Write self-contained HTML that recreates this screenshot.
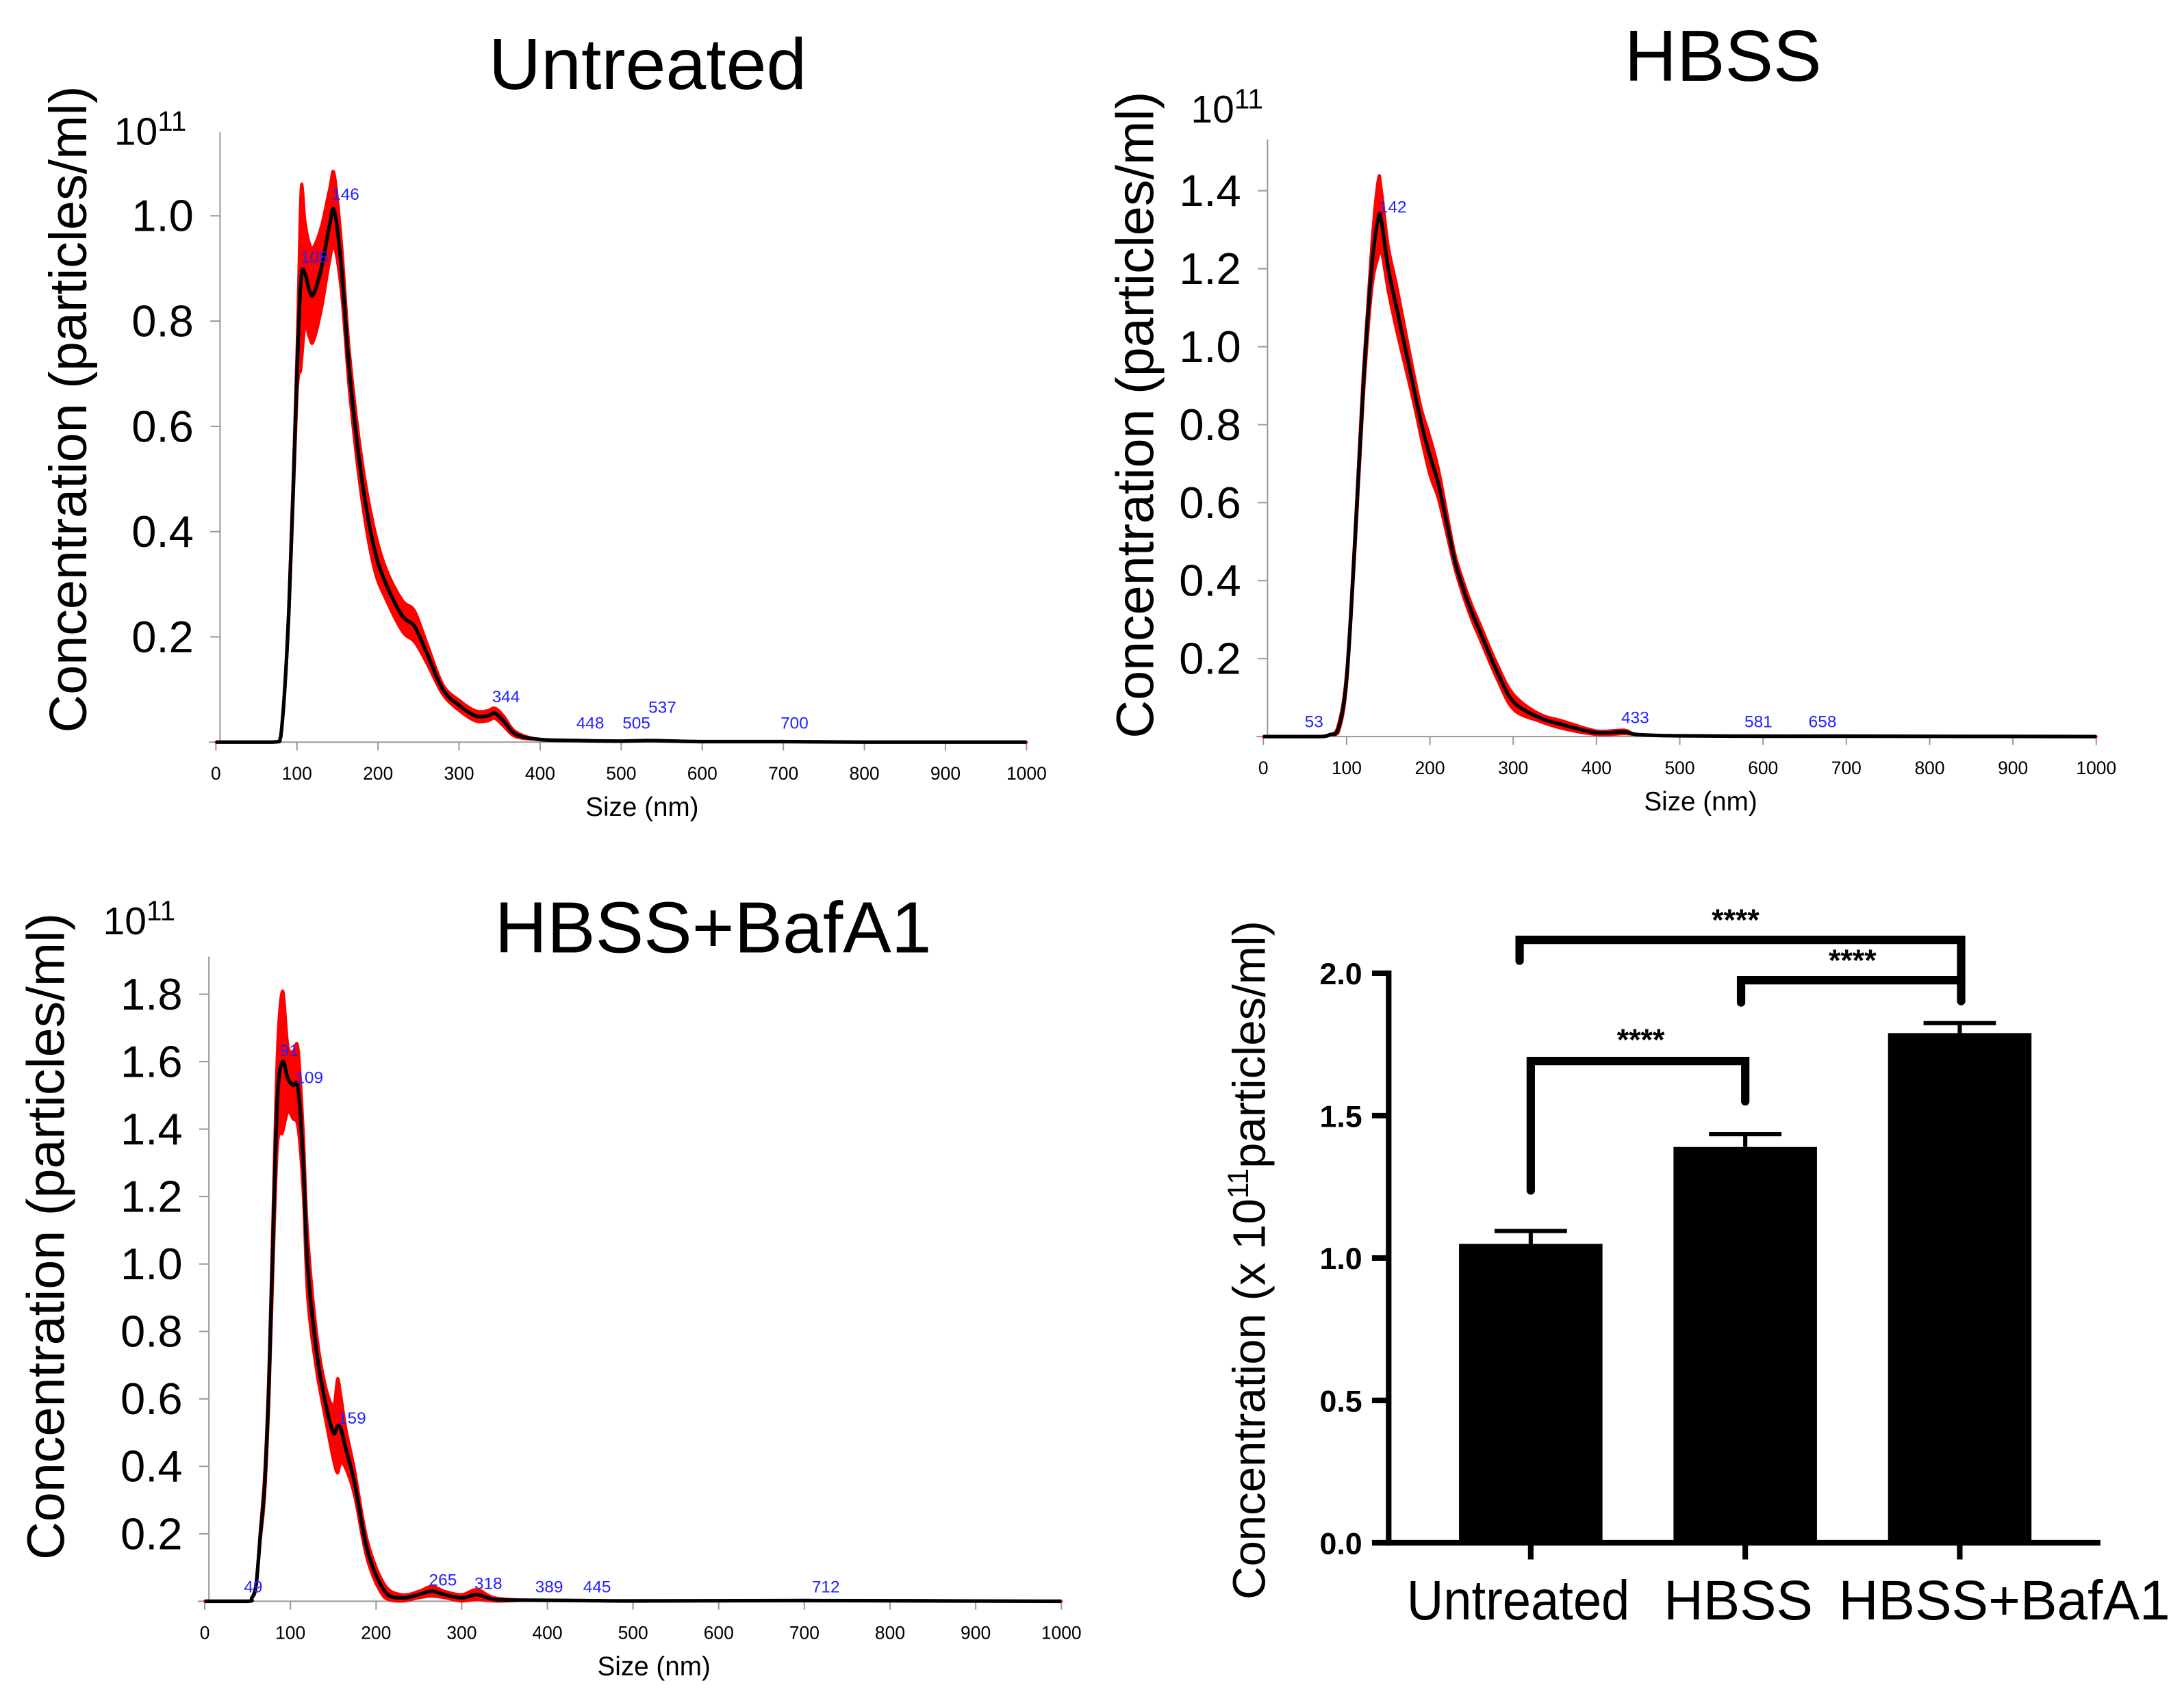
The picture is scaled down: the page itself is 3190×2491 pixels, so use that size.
<!DOCTYPE html>
<html><head><meta charset="utf-8"><style>
html,body{margin:0;padding:0;background:#fff}
svg{display:block}
text{font-family:"Liberation Sans",sans-serif}
</style></head><body>
<svg id="fig" width="3190" height="2491" viewBox="0 0 1568 1224.5" preserveAspectRatio="none" xmlns="http://www.w3.org/2000/svg">
<rect width="1568" height="1224.5" fill="#fff"/>
</svg>
<script>
// ---- Untreated ----
const untSize=[0,70,80,90,100,105,110,115,120,130,140,146,155,165,180,195,210,230,245,260,280,300,320,335,344,355,370,400,450,500,537,600,700,800,1000];
const untConc=[0,0,0.01,0.25,0.7,0.88,0.89,0.86,0.85,0.9,0.98,1.01,0.9,0.7,0.5,0.37,0.3,0.24,0.22,0.17,0.1,0.07,0.05,0.05,0.055,0.04,0.015,0.005,0.003,0.002,0.003,0.001,0.001,0,0];
const untErr=[0,0,0,0.02,0.05,0.17,0.1,0.09,0.09,0.08,0.07,0.07,0.05,0.04,0.04,0.04,0.03,0.03,0.03,0.02,0.01,0.01,0.01,0.01,0.01,0.01,0.005,0,0,0,0,0,0,0,0];
const untLabels=["146","108","344","448","505","537","700"];
const untLabelSize=[146,108,344,448,505,537,700];
const untLabelConc=[1.02,0.9,0.065,0.015,0.015,0.045,0.015];
// ---- HBSS ----
const hbSize=[0,50,70,80,90,100,110,120,130,138,142,150,160,170,180,190,200,210,220,230,240,250,260,280,300,330,360,400,433,450,500,600,700,1000];
const hbConc=[0,0,0,0.005,0.02,0.15,0.5,0.9,1.2,1.33,1.32,1.2,1.1,1.0,0.9,0.8,0.72,0.65,0.55,0.45,0.38,0.32,0.27,0.17,0.09,0.05,0.03,0.01,0.012,0.005,0.002,0.001,0.001,0];
const hbErr=[0,0,0,0,0.01,0.02,0.03,0.04,0.06,0.1,0.08,0.06,0.06,0.05,0.04,0.04,0.05,0.04,0.03,0.02,0.02,0.02,0.02,0.02,0.02,0.01,0.01,0.005,0.005,0,0,0,0,0];
const hbLabels=["142","53","433","581","658"];
const hbLabelSize=[142,53,433,581,658];
const hbLabelConc=[1.33,0.01,0.02,0.01,0.01];
// ---- HBSS+BafA1 ----
const bfSize=[0,50,55,60,65,70,75,80,85,91,97,103,109,115,120,130,140,150,155,159,165,175,190,210,230,250,265,280,300,318,340,389,445,500,712,1000];
const bfConc=[0,0,0.01,0.05,0.2,0.35,0.65,1.1,1.5,1.6,1.55,1.53,1.52,1.3,1.0,0.75,0.6,0.5,0.52,0.51,0.45,0.35,0.15,0.03,0.01,0.02,0.03,0.02,0.01,0.02,0.005,0.003,0.002,0.001,0.002,0];
const bfErr=[0,0,0,0.01,0.02,0.04,0.06,0.1,0.15,0.21,0.1,0.1,0.12,0.1,0.1,0.06,0.05,0.08,0.14,0.1,0.06,0.04,0.03,0.02,0.01,0.01,0.015,0.01,0.01,0.015,0.005,0,0,0,0,0];
const bfLabels=["91","109","159","49","265","318","389","445","712"];
const bfLabelSize=[91,109,159,49,265,318,389,445,712];
const bfLabelConc=[1.6,1.52,0.51,0.01,0.03,0.02,0.01,0.01,0.01];
// ---- Bar chart ----
const barCats=["Untreated","HBSS","HBSS+BafA1"];
const barVals=[1.05,1.39,1.79];
const barErrs=[0.045,0.045,0.035];
const barTicks=["0.0","0.5","1.0","1.5","2.0"];
const barTickVals=[0,0.5,1.0,1.5,2.0];
const distXTicks=[0,100,200,300,400,500,600,700,800,900,1000];

const NS="http://www.w3.org/2000/svg";
const svg=document.getElementById('fig');
function mk(tag,attrs,parent,txt){const e=document.createElementNS(NS,tag);for(const k in attrs)e.setAttribute(k,attrs[k]);if(txt!==undefined)e.textContent=txt;(parent||svg).appendChild(e);return e;}
function smooth(pts,maxY){
  const cl=y=>Math.min(y,maxY);
  let d='M'+pts[0][0]+','+pts[0][1];
  for(let i=0;i<pts.length-1;i++){
    const p0=pts[Math.max(0,i-1)],p1=pts[i],p2=pts[i+1],p3=pts[Math.min(pts.length-1,i+2)];
    const c1x=p1[0]+(p2[0]-p0[0])/6,c1y=cl(p1[1]+(p2[1]-p0[1])/6);
    const c2x=p2[0]-(p3[0]-p1[0])/6,c2y=cl(p2[1]-(p3[1]-p1[1])/6);
    d+=` C${c1x},${c1y} ${c2x},${c2y} ${p2[0]},${p2[1]}`;
  }
  return d;
}

function dist(cfg){
  const g=mk('g',{});
  
  
  const X=v=>cfg.x0+(cfg.x1-cfg.x0)*v/1000;
  const Y=v=>cfg.y0-(cfg.y0-cfg.yTop)*v/cfg.yTopVal;
  const t=mk('text',{x:cfg.tx,y:cfg.ty,'font-size':52,'text-anchor':'middle'},g,cfg.title);
  
  const e=mk('text',{x:cfg.ex,y:cfg.ey,'font-size':28,'font-family':'Liberation Serif,serif'},g);
  
  mk('tspan',{},e,'10');mk('tspan',{dy:-10,'font-size':20},e,'11');
  const yl=mk('text',{x:0,y:0,'font-size':38,'text-anchor':'middle',transform:`translate(${cfg.ylx},${cfg.yly}) rotate(-90)`},g,'Concentration (particles/ml)');
  
  mk('line',{x1:cfg.x0+3,y1:cfg.axTop,x2:cfg.x0+3,y2:cfg.y0,stroke:'#999','stroke-width':1},g);
  mk('line',{x1:cfg.x0-5,y1:cfg.y0,x2:cfg.x1,y2:cfg.y0,stroke:'#999','stroke-width':1},g);
  cfg.yTicks.forEach(v=>{
    mk('line',{x1:cfg.x0-4,y1:Y(v),x2:cfg.x0+3,y2:Y(v),stroke:'#999','stroke-width':1},g);
    const tl=mk('text',{x:cfg.x0-16,y:Y(v)+11,'font-size':32,'text-anchor':'end'},g,v.toFixed(1));
    
  });
  distXTicks.forEach(v=>{
    mk('line',{x1:X(v),y1:cfg.y0,x2:X(v),y2:cfg.y0+6,stroke:'#999','stroke-width':1},g);
    const tl=mk('text',{x:X(v),y:cfg.y0+27,'font-size':13,'text-anchor':'middle'},g,String(v));
    
  });
  const xl=mk('text',{x:(cfg.x0+cfg.x1)/2+15,y:cfg.y0+53,'font-size':19,'text-anchor':'middle'},g,'Size (nm)');
  
  const up=cfg.s.map((s,i)=>[X(s),Y(cfg.c[i]+cfg.e[i])]);
  const lo=cfg.s.map((s,i)=>[X(s),Y(Math.max(0,cfg.c[i]-cfg.e[i]))]).reverse();
  const band=mk('path',{d:smooth(up,cfg.y0)+' L'+smooth(lo,cfg.y0).slice(1)+' Z',fill:'#ff0000',stroke:'#ff0000','stroke-width':2,'stroke-linejoin':'round'},g);
  
  const ln=mk('path',{d:smooth(cfg.s.map((s,i)=>[X(s),Y(cfg.c[i])]),cfg.y0),fill:'none',stroke:'#000','stroke-width':2.6,'stroke-linejoin':'round'},g);
  
  cfg.lab.forEach((l,i)=>{
    const lt=mk('text',{x:X(cfg.labS[i])-2,y:Y(cfg.labC[i])-4,'font-size':12,fill:'#2222ff'},g,l);
    
  });
}
dist({name:'untreated-chart',title:'Untreated',tx:465,ty:64,ex:82,ey:104,ylx:62,yly:294,x0:155,x1:737,y0:533,yTop:155,yTopVal:1.0,axTop:95,yTicks:[0.2,0.4,0.6,0.8,1.0],s:untSize,c:untConc,e:untErr,lab:untLabels,labS:untLabelSize,labC:untLabelConc});
dist({name:'hbss-chart',title:'HBSS',tx:1237,ty:58,ex:855,ey:88,ylx:828,yly:298,x0:907,x1:1505,y0:529,yTop:137,yTopVal:1.4,axTop:100,yTicks:[0.2,0.4,0.6,0.8,1.0,1.2,1.4],s:hbSize,c:hbConc,e:hbErr,lab:hbLabels,labS:hbLabelSize,labC:hbLabelConc});
dist({name:'hbss-bafa1-chart',title:'HBSS+BafA1',tx:512,ty:684,ex:74,ey:671,ylx:46,yly:888,x0:147,x1:762,y0:1150,yTop:714,yTopVal:1.8,axTop:687,yTicks:[0.2,0.4,0.6,0.8,1.0,1.2,1.4,1.6,1.8],s:bfSize,c:bfConc,e:bfErr,lab:bfLabels,labS:bfLabelSize,labC:bfLabelConc});

(function(){
  const g=mk('g',{});
  
  
  const y0=1108,yT=699;
  const Y=v=>y0-(y0-yT)*v/2.0;
  const cx=[1099,1253,1407],bw=103;
  const labCx=[1090,1248,1439],labLen=[160,107,238];
  mk('line',{x1:997,y1:697,x2:997,y2:y0+2,stroke:'#000','stroke-width':4},g);
  mk('line',{x1:995,y1:y0,x2:1508,y2:y0,stroke:'#000','stroke-width':4},g);
  barTickVals.forEach((v,i)=>{
    mk('line',{x1:985,y1:Y(v),x2:997,y2:Y(v),stroke:'#000','stroke-width':4},g);
    const tl=mk('text',{x:978,y:Y(v)+8,'font-size':22,'font-weight':'bold','text-anchor':'end'},g,barTicks[i]);
    
  });
  barVals.forEach((v,i)=>{
    const b=mk('rect',{x:cx[i]-bw/2,y:Y(v),width:bw,height:y0-Y(v),fill:'#000'},g);
    
    
    const eb=mk('path',{d:`M${cx[i]},${Y(v)} V${Y(v+barErrs[i])} M${cx[i]-26},${Y(v+barErrs[i])} H${cx[i]+26}`,stroke:'#000','stroke-width':3,fill:'none'},g);
    
    mk('line',{x1:cx[i],y1:y0,x2:cx[i],y2:y0+12,stroke:'#000','stroke-width':4},g);
    const cl=mk('text',{x:labCx[i]-labLen[i]/2,y:1163,'font-size':40,textLength:labLen[i],lengthAdjust:'spacingAndGlyphs'},g,barCats[i]);
    
  });
  const yl=mk('text',{x:0,y:0,'font-size':33,'text-anchor':'middle',transform:'translate(908,905) rotate(-90)'},g);
  
  mk('tspan',{},yl,'Concentration (x 10');mk('tspan',{dy:-12,'font-size':21},yl,'11');mk('tspan',{dy:12},yl,'particles/ml)');
  const br=[['M1099,855 V762 H1253 V791',1178,754],['M1250,720 V704 H1408 V719',1330,697],['M1091,690 V675 H1408 V704',1246,668]];
  br.forEach(b=>{
    const p=mk('path',{d:b[0],stroke:'#000','stroke-width':6,fill:'none','stroke-linecap':'round'},g);
    
    const s=mk('text',{x:b[1],y:b[2],'font-size':22,'font-weight':'bold','text-anchor':'middle'},g,'****');
    
  });
})();
</script>
</body></html>
